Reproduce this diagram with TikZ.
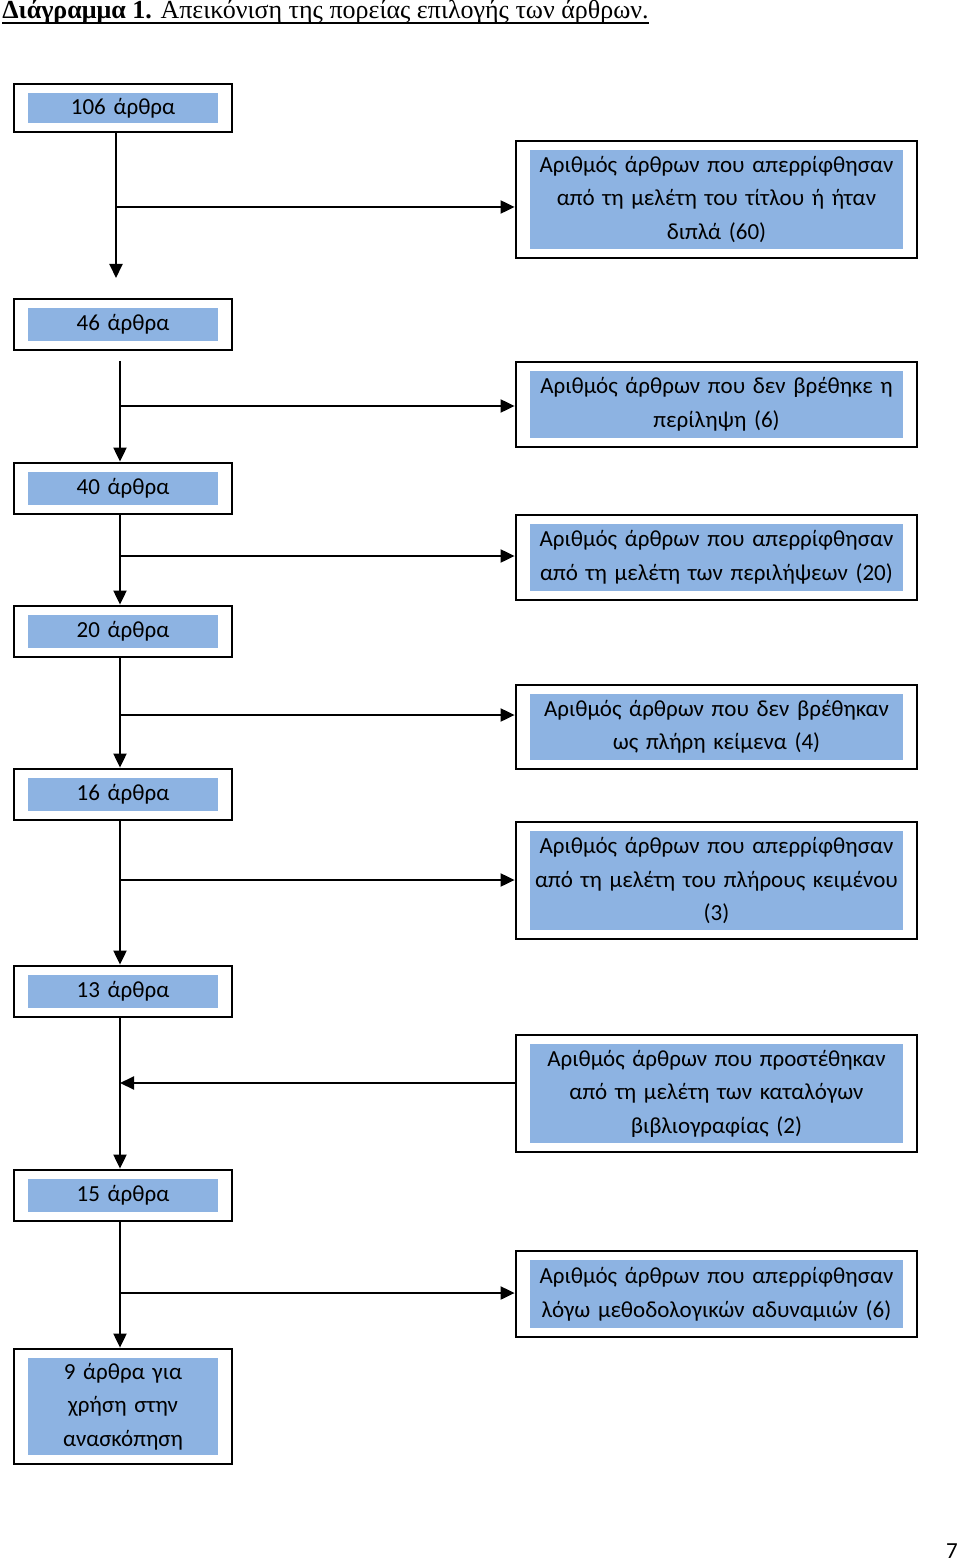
\documentclass[tikz,border=0pt]{standalone}
\usepackage{fontspec}
\setmainfont{Carlito}
\newfontfamily\titlefont{Liberation Serif}
\usetikzlibrary{arrows.meta,fit}
\definecolor{boxblue}{RGB}{141,179,226}
\begin{document}
\begin{tikzpicture}[x=0.5pt,y=-0.5pt,
  txt/.style={fill=boxblue, align=center, inner sep=0pt, font=\fontsize{11.5}{16.75}\selectfont},
  lbox/.style={txt, minimum width=95pt, text width=95pt},
  rbox/.style={txt, minimum width=186.5pt, text width=186.5pt},
  frame/.style={draw, line width=1pt, inner xsep=7pt, inner ysep=4.5pt},
  ln/.style={line width=1pt},
  arr/.style={line width=1pt, -{Triangle[length=7pt,width=6.5pt]}}]
\useasboundingbox (0,0) rectangle (960,1561);

% title
\node[anchor=base west, inner sep=0pt, font=\titlefont\fontsize{13}{15}\selectfont] (title) at (2,19)
  {\textbf{Διάγραμμα 1.} Απεικόνιση της πορείας επιλογής των άρθρων.};
\draw[line width=0.9pt] ([yshift=-2pt]title.base west) -- ([yshift=-2pt]title.base east);

% left column
\node[lbox, minimum height=15pt] (b1) at (123,108) {106 άρθρα};
\node[frame, fit=(b1)] (f1) {};
\node[lbox, minimum height=16.5pt] (b2) at (123,324.5) {46 άρθρα};
\node[frame, fit=(b2)] (f2) {};
\node[lbox, minimum height=16.5pt] (b3) at (123,488.5) {40 άρθρα};
\node[frame, fit=(b3)] (f3) {};
\node[lbox, minimum height=16.5pt] (b4) at (123,631.5) {20 άρθρα};
\node[frame, fit=(b4)] (f4) {};
\node[lbox, minimum height=16.5pt] (b5) at (123,794.5) {16 άρθρα};
\node[frame, fit=(b5)] (f5) {};
\node[lbox, minimum height=16.5pt] (b6) at (123,991.5) {13 άρθρα};
\node[frame, fit=(b6)] (f6) {};
\node[lbox, minimum height=16.5pt] (b7) at (123,1195.5) {15 άρθρα};
\node[frame, fit=(b7)] (f7) {};
\node[lbox, minimum height=48.5pt] (b8) at (123,1406.5) {9 άρθρα για\\χρήση στην\\ανασκόπηση};
\node[frame, fit=(b8)] (f8) {};

% right column
\node[rbox, minimum height=49.5pt] (r1) at (716.5,199.5) {Αριθμός άρθρων που απερρίφθησαν\\από τη μελέτη του τίτλου ή ήταν\\διπλά (60)};
\node[frame, fit=(r1)] (g1) {};
\node[rbox, minimum height=33.5pt] (r2) at (716.5,404.5) {Αριθμός άρθρων που δεν βρέθηκε η\\περίληψη (6)};
\node[frame, fit=(r2)] (g2) {};
\node[rbox, minimum height=33.5pt] (r3) at (716.5,557.5) {Αριθμός άρθρων που απερρίφθησαν\\από τη μελέτη των περιλήψεων (20)};
\node[frame, fit=(r3)] (g3) {};
\node[rbox, minimum height=33pt] (r4) at (716.5,727) {Αριθμός άρθρων που δεν βρέθηκαν\\ως πλήρη κείμενα (4)};
\node[frame, fit=(r4)] (g4) {};
\node[rbox, minimum height=49.5pt] (r5) at (716.5,880.5) {Αριθμός άρθρων που απερρίφθησαν\\από τη μελέτη του πλήρους κειμένου\\(3)};
\node[frame, fit=(r5)] (g5) {};
\node[rbox, minimum height=49.5pt] (r6) at (716.5,1093.5) {Αριθμός άρθρων που προστέθηκαν\\από τη μελέτη των καταλόγων\\βιβλιογραφίας (2)};
\node[frame, fit=(r6)] (g6) {};
\node[rbox, minimum height=34pt] (r7) at (716.5,1294) {Αριθμός άρθρων που απερρίφθησαν\\λόγω μεθοδολογικών αδυναμιών (6)};
\node[frame, fit=(r7)] (g7) {};

% page number
\node[font=\fontsize{11.5}{14}\selectfont, inner sep=0pt] (page) at (952,1551) {7};

% connectors
\coordinate (va) at (116,0);
\coordinate (vx) at (120,0);
\coordinate (t1) at (116,278);
\coordinate (s2) at (120,361);
\coordinate (j1) at (116,207);
\coordinate (j2) at (120,406);
\coordinate (j3) at (120,556);
\coordinate (j4) at (120,715);
\coordinate (j5) at (120,880);
\coordinate (j6) at (120,1083);
\coordinate (j7) at (120,1293);

\draw[arr] (f1.south -| va) -- (t1);
\draw[arr] (s2) -- (f3.north -| vx);
\draw[arr] (f3.south -| vx) -- (f4.north -| vx);
\draw[arr] (f4.south -| vx) -- (f5.north -| vx);
\draw[arr] (f5.south -| vx) -- (f6.north -| vx);
\draw[arr] (f6.south -| vx) -- (f7.north -| vx);
\draw[arr] (f7.south -| vx) -- (f8.north -| vx);

\draw[arr] (j1) -- (j1 -| g1.west);
\draw[arr] (j2) -- (j2 -| g2.west);
\draw[arr] (j3) -- (j3 -| g3.west);
\draw[arr] (j4) -- (j4 -| g4.west);
\draw[arr] (j5) -- (j5 -| g5.west);
\draw[arr] (j6 -| g6.west) -- (j6);
\draw[arr] (j7) -- (j7 -| g7.west);
\end{tikzpicture}
\end{document}
